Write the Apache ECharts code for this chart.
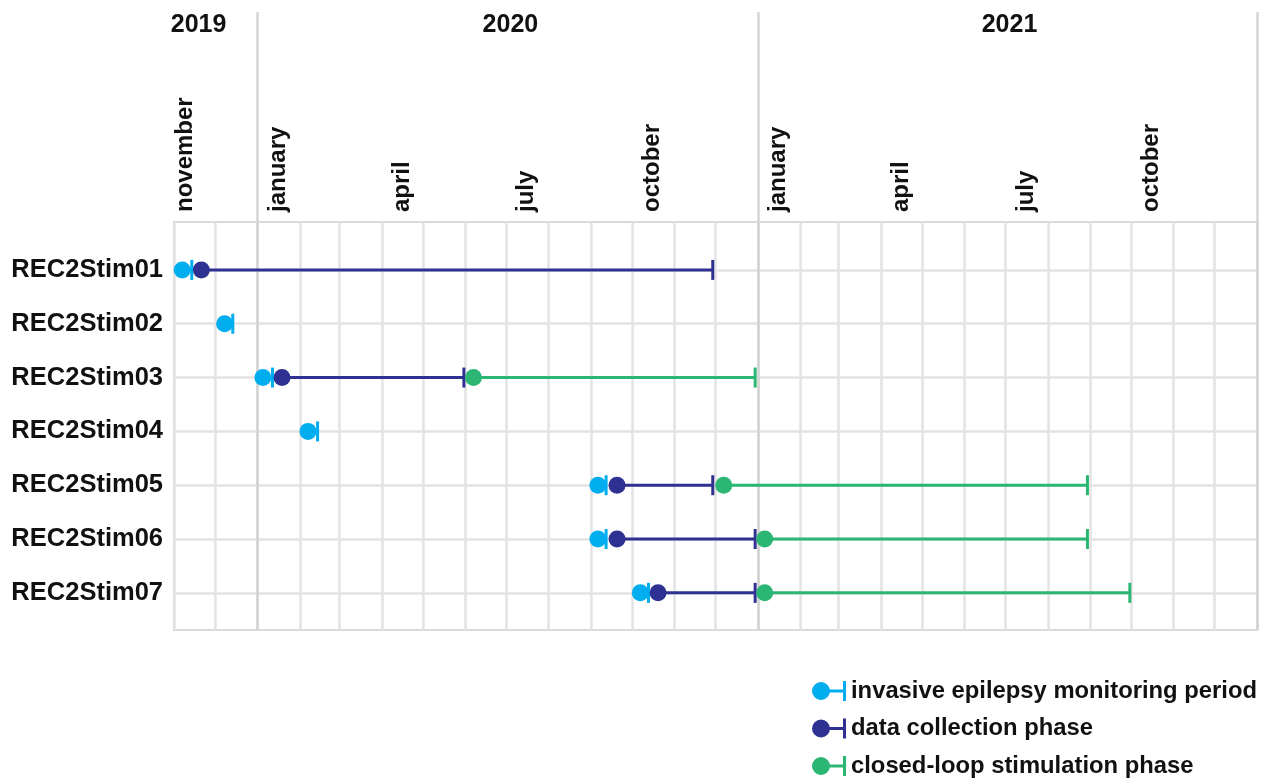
<!DOCTYPE html>
<html>
<head>
<meta charset="utf-8">
<script src="https://cdn.jsdelivr.net/npm/echarts@6/dist/echarts.min.js"></script>
<style>
html,body{margin:0;padding:0;background:#fff;}
#main{width:1270px;height:781px;}
</style>
</head>
<body>
<div id="main"></div>
<script>
// ---- data ----
const subjects = ['REC2Stim01','REC2Stim02','REC2Stim03','REC2Stim04','REC2Stim05','REC2Stim06','REC2Stim07'];
const monitoringStart = ['2019-11-07','2019-12-08','2020-01-05','2020-02-07','2020-09-06','2020-09-06','2020-10-07'];
const monitoringEnd   = ['2019-11-14','2019-12-14','2020-01-12','2020-02-14','2020-09-12','2020-09-12','2020-10-13'];
const collectionStart = ['2019-11-21', null, '2020-01-19', null, '2020-09-20','2020-09-20','2020-10-20'];
const collectionEnd   = ['2020-11-29', null, '2020-05-31', null, '2020-11-29','2020-12-30','2020-12-30'];
const stimulationStart = [null, null, '2020-06-07', null, '2020-12-07','2021-01-06','2021-01-06'];
const stimulationEnd   = [null, null, '2020-12-30', null, '2021-08-30','2021-08-30','2021-09-30'];
const phaseNames = ['invasive epilepsy monitoring period','data collection phase','closed-loop stimulation phase'];
const phaseColors = ['#00AEEF','#2E3192','#2BB673'];
const monthLabels = ['november','january','april','july','october','january','april','july','october'];
const monthLabelDates = ['2019-11-09','2020-01-16','2020-04-16','2020-07-16','2020-10-16','2021-01-16','2021-04-16','2021-07-16','2021-10-16'];
const yearLabels = ['2019','2020','2021'];
const yearLabelDates = ['2019-11-19','2020-07-04','2021-07-04'];
const yearBoundaries = ['2020-01-01','2021-01-01','2022-01-01'];
const axisStart = '2019-11-01';
const axisEnd = '2022-01-01';

// ---- helpers ----
const P = s => echarts.number.parseDate(s).getTime();
const monthStarts = [];
{
  const d = echarts.number.parseDate(axisStart);
  const end = P(axisEnd);
  while (d.getTime() <= end) { monthStarts.push(d.getTime()); d.setMonth(d.getMonth() + 1); }
}
function phaseData(starts, ends) {
  const out = [];
  starts.forEach((s, i) => { if (s) out.push([i, P(s), P(ends[i])]); });
  return out;
}
function makeRender(color) {
  return function (params, api) {
    const row = api.value(0);
    const s = api.coord([api.value(1), row]);
    const e = api.coord([api.value(2), row]);
    return {
      type: 'group',
      children: [
        { type: 'line', shape: { x1: s[0], y1: s[1], x2: e[0], y2: e[1] }, style: { stroke: color, lineWidth: 3 } },
        { type: 'line', shape: { x1: e[0], y1: e[1] - 10, x2: e[0], y2: e[1] + 10 }, style: { stroke: color, lineWidth: 3 } },
        { type: 'circle', shape: { cx: s[0], cy: s[1], r: 8.5 }, style: { fill: color } }
      ]
    };
  };
}
const FONT = 'Liberation Sans, Arial, Helvetica, sans-serif';
const labelMap = {};
monthLabelDates.forEach((d, i) => labelMap[P(d)] = monthLabels[i]);
const yearMap = {};
yearLabelDates.forEach((d, i) => yearMap[P(d)] = yearLabels[i]);

const seriesData = [
  phaseData(monitoringStart, monitoringEnd),
  phaseData(collectionStart, collectionEnd),
  phaseData(stimulationStart, stimulationEnd)
];
const legendIcon = 'path://M0,10 A9,9 0 1 1 18,10 A9,9 0 1 1 0,10 Z M16,8.5 L32,8.5 L32,11.5 L16,11.5 Z M31,0 L34,0 L34,20 L31,20 Z';

const chart = echarts.init(document.getElementById('main'), null, { renderer: 'canvas' });
chart.setOption({
  animation: false,
  backgroundColor: '#ffffff',
  grid: { left: 174, right: 13, top: 222, bottom: 151, show: true, borderColor: '#dadada', borderWidth: 2, backgroundColor: 'transparent' },
  legend: {
    orient: 'vertical', left: 812, top: 679, width: 455, height: 200, padding: 0,
    itemGap: 13.5, itemWidth: 34, itemHeight: 20,
    selectedMode: false,
    data: phaseNames.map(n => ({ name: n, icon: legendIcon })),
    textStyle: { fontFamily: FONT, fontSize: 23.8, fontWeight: 'bold', color: '#111' }
  },
  xAxis: [
    {
      type: 'value', position: 'top', min: P(axisStart), max: P(axisEnd),
      axisLine: { show: false },
      axisTick: { show: false, customValues: monthStarts },
      splitLine: { show: true, lineStyle: { color: '#e3e3e3', width: 2.5 } },
      axisLabel: {
        customValues: monthLabelDates.map(P), rotate: 90, margin: 10,
        fontFamily: FONT, fontSize: 24, fontWeight: 'bold', color: '#111',
        formatter: v => labelMap[v] || ''
      }
    },
    {
      type: 'value', position: 'top', min: P(axisStart), max: P(axisEnd),
      axisLine: { show: false },
      axisTick: { show: true, inside: false, length: 210, customValues: yearBoundaries.map(P), lineStyle: { color: '#d6d6d6', width: 2.5 } },
      splitLine: { show: true, lineStyle: { color: '#d3d3d3', width: 2.5 } },
      axisLabel: {
        customValues: yearLabelDates.map(P), margin: 184,
        fontFamily: FONT, fontSize: 25, fontWeight: 'bold', color: '#111',
        formatter: v => yearMap[v] || ''
      }
    }
  ],
  yAxis: {
    type: 'value', inverse: true, min: -0.89, max: 6.69,
    axisLine: { show: false },
    axisTick: { show: false, customValues: subjects.map((s, i) => i) },
    splitLine: { show: true, lineStyle: { color: '#e3e3e3', width: 2.5 } },
    axisLabel: {
      customValues: subjects.map((s, i) => i), margin: 11,
      fontFamily: FONT, fontSize: 25.5, fontWeight: 'bold', color: '#111',
      formatter: v => subjects[v] || ''
    }
  },
  series: seriesData.map((d, k) => ({
    type: 'custom', name: phaseNames[k], xAxisIndex: 0, yAxisIndex: 0,
    itemStyle: { color: phaseColors[k] },
    encode: { x: [1, 2], y: 0 },
    renderItem: makeRender(phaseColors[k]),
    data: d,
    z: 3 + k
  }))
});
</script>
</body>
</html>
